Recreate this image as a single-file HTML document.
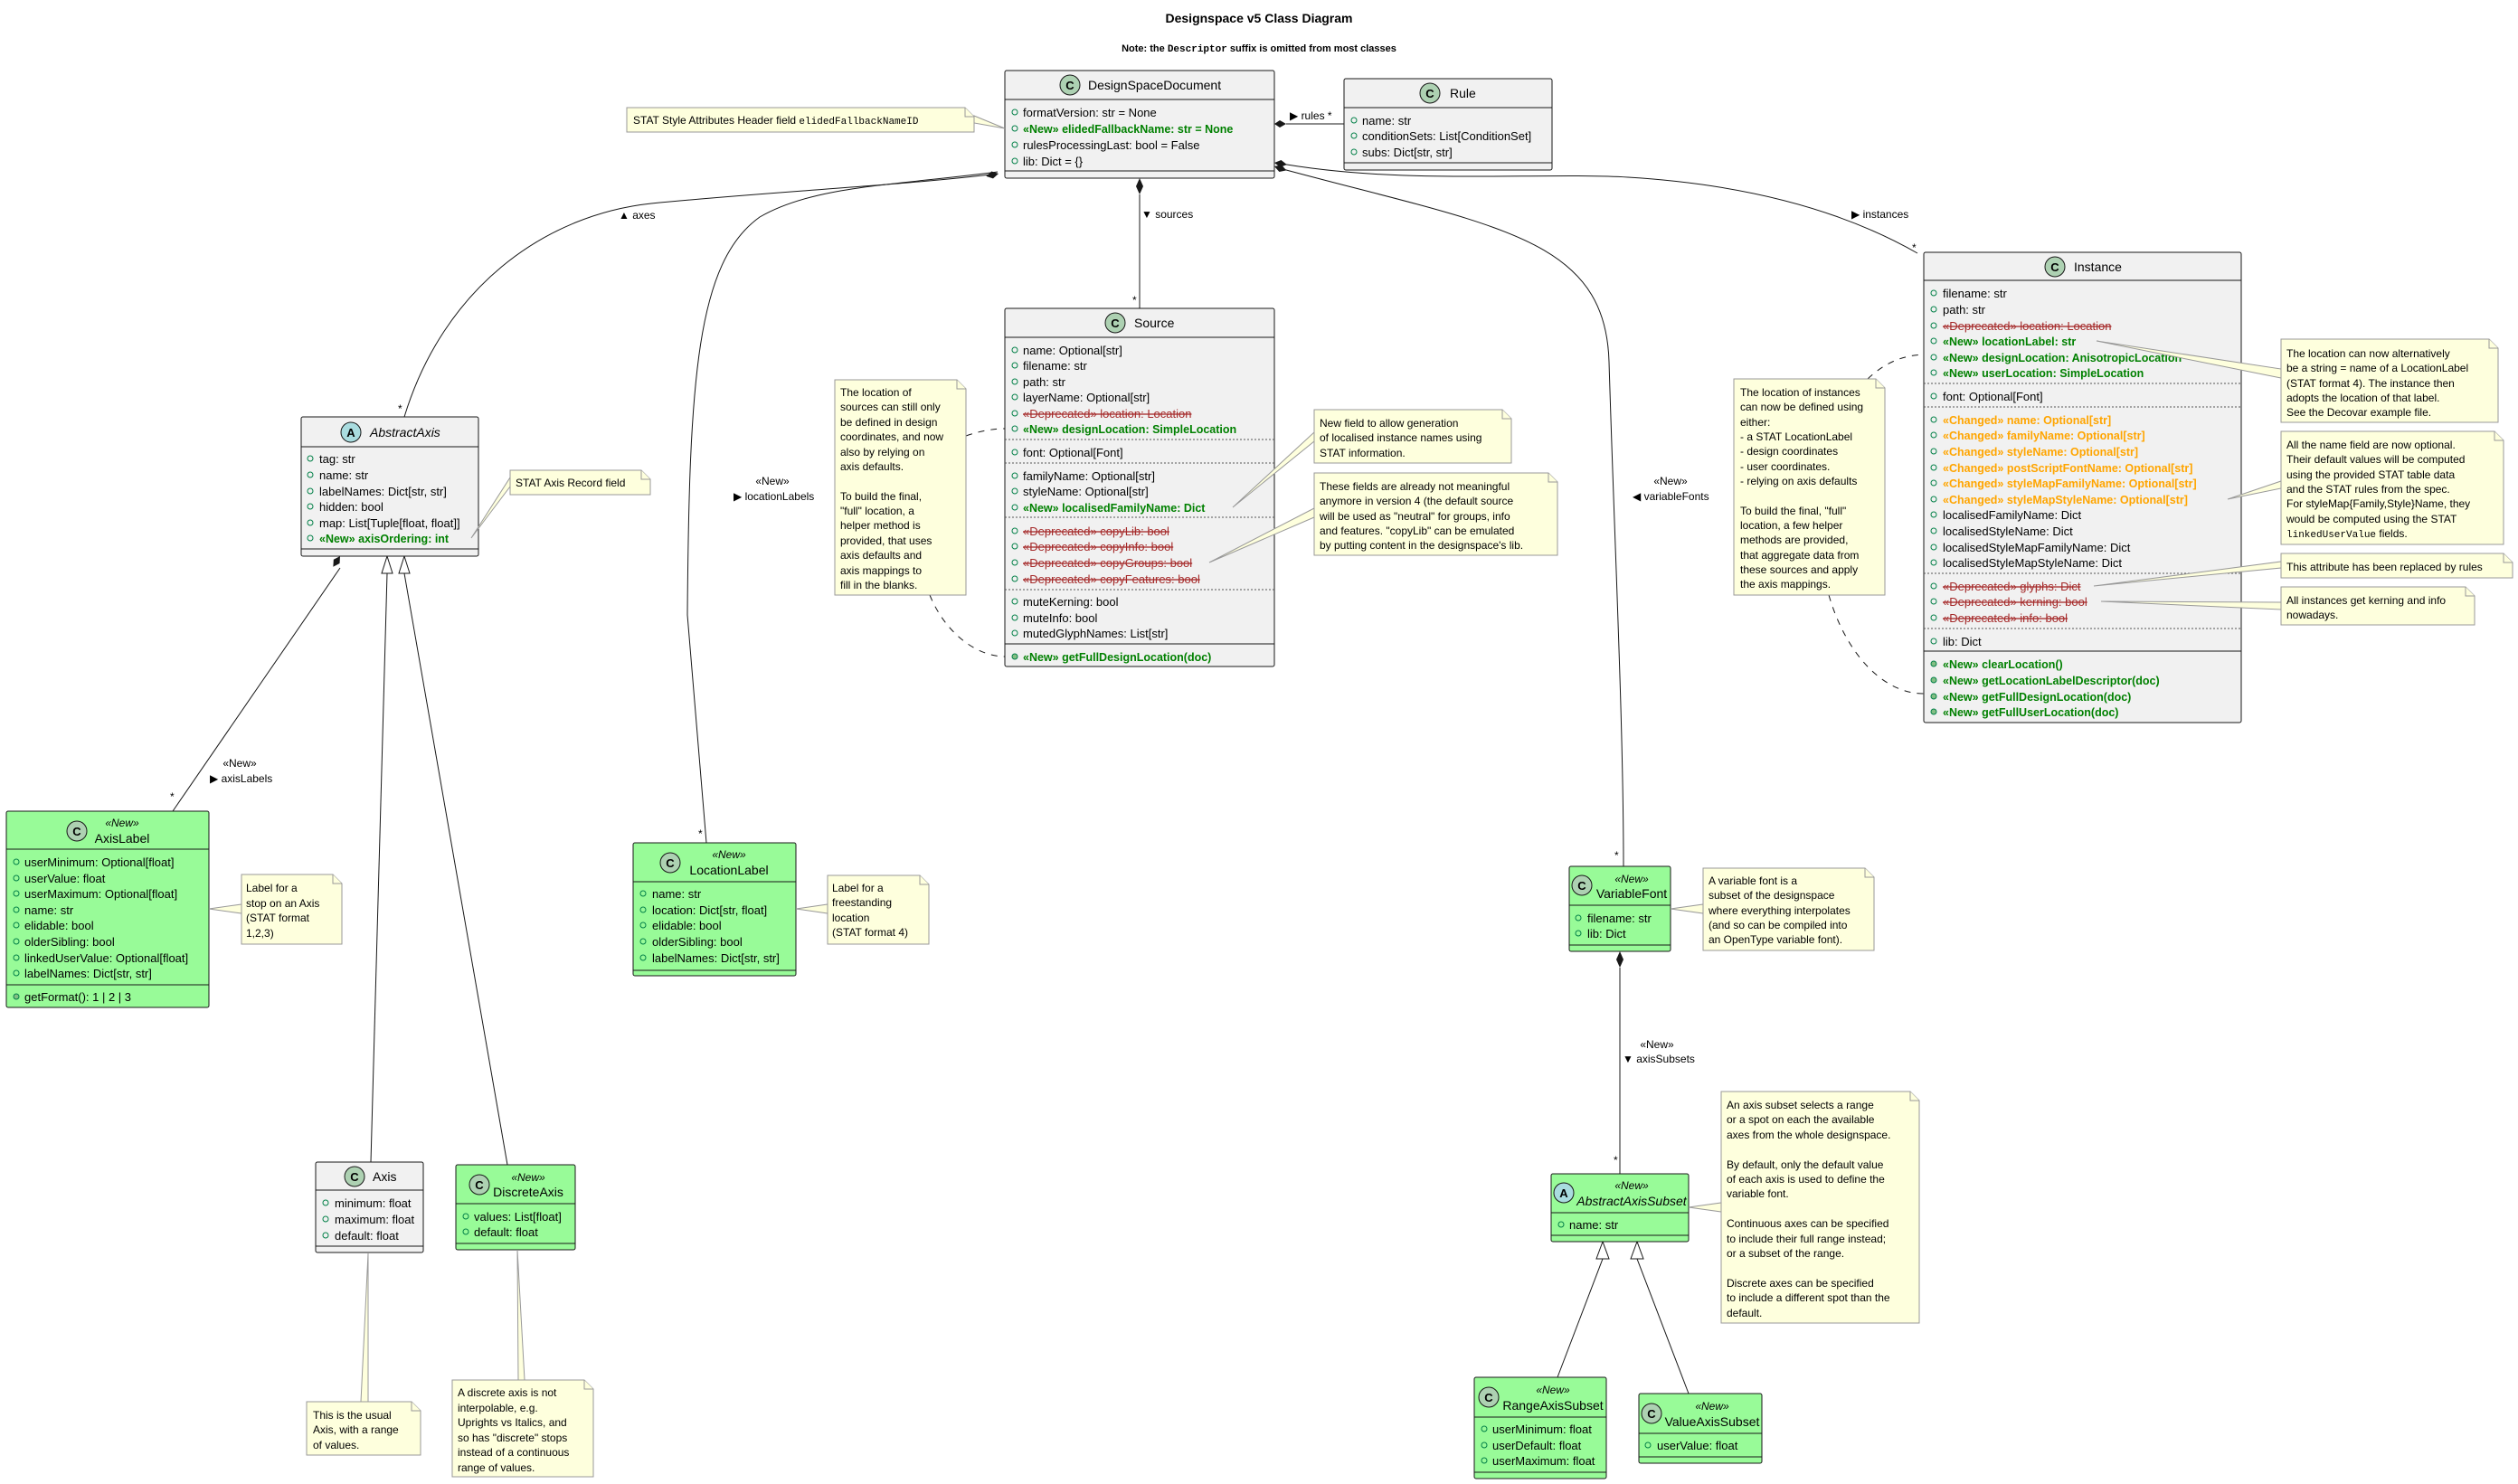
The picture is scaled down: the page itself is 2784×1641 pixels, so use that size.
<!DOCTYPE html>
<html><head><meta charset="utf-8"><style>
html,body{margin:0;padding:0;background:#fff}
svg{display:block}
text{font-family:"Liberation Sans",sans-serif;fill:#000}
.r{font-size:13px}
.g{font-size:12.5px;font-weight:bold;fill:#008000}
.o{font-size:12.5px;font-weight:bold;fill:#FFA500}
.d{font-size:13px;fill:#A52A2A;text-decoration:line-through}
.n{font-size:12px}
.l{font-size:12px}
.h{font-size:14px}
.st{font-size:12px;font-style:italic}
.box{fill:#F1F1F1;stroke:#181818;stroke-width:1}
.gbox{fill:#98FB98;stroke:#181818;stroke-width:1}
.sep{stroke:#555;stroke-width:1;stroke-dasharray:2,2}
.sol{stroke:#181818;stroke-width:1}
.ic{fill:none;stroke:#038048;stroke-width:1}
.im{fill:#84BE84;stroke:#038048;stroke-width:1}
.note{fill:#FEFFDD;stroke:#999;stroke-width:1}
.ln{fill:none;stroke:#181818;stroke-width:1}
.dl{fill:none;stroke:#181818;stroke-width:1;stroke-dasharray:7,7}
.cc{fill:#ADD1B2;stroke:#181818;stroke-width:1}
.ca{fill:#A9DCDF;stroke:#181818;stroke-width:1}
.cl{font-size:13px;font-weight:bold;text-anchor:middle}
</style></head><body>
<svg width="2784" height="1641" viewBox="0 0 2784 1641" xmlns="http://www.w3.org/2000/svg">
<text x="1392" y="25" text-anchor="middle" style="font-size:14px;font-weight:bold">Designspace v5 Class Diagram</text>
<text x="1392" y="57" text-anchor="middle" style="font-size:11px;font-weight:bold">Note: the <tspan style="font-family:'Liberation Mono',monospace">Descriptor</tspan> suffix is omitted from most classes</text>

<path class="ln" d="M1103,192 C1000,205 850,212 720,225 C600,238 490,320 447,461"/>
<path class="ln" d="M1103,190 C990,205 900,205 840,240 C770,290 762,420 760,680 L781,932"/>
<path class="ln" d="M1260,215 L1260,341"/>
<path class="ln" d="M1422,137 L1486,137"/>
<path class="ln" d="M1411,180 C1550,205 1700,190 1800,196 C1950,205 2050,240 2120,280"/>
<path class="ln" d="M1411,185 C1650,250 1775,260 1779,400 C1785,600 1795,800 1795,958"/>
<path class="ln" d="M376,628 L191,897"/>
<path class="ln" d="M410,1285 L428,634"/>
<path class="ln" d="M561,1288 L447,634"/>
<path class="ln" d="M1791,1070 L1791,1298"/>
<path class="ln" d="M1722,1523 L1772,1392"/>
<path class="ln" d="M1867,1541 L1810,1392"/>
<polygon points="0,0 -7,-4 -14,0 -7,4" transform="translate(1104,192) rotate(-12)" fill="#181818"/>
<polygon points="1260,197 1264,206 1260,215 1256,206" fill="#181818"/>
<polygon points="1409,137 1415,133 1422,137 1415,141" fill="#181818"/>
<polygon points="0,0 7,-4 14,0 7,4" transform="translate(1409,180) rotate(8)" fill="#181818"/>
<polygon points="0,0 7,-4 14,0 7,4" transform="translate(1409,184) rotate(18)" fill="#181818"/>
<polygon points="0,0 7,-4 14,0 7,4" transform="translate(376,615) rotate(123)" fill="#181818"/>
<polygon points="1791,1052 1795,1061 1791,1070 1787,1061" fill="#181818"/>
<polygon points="428,615 422,634 434,634" fill="#fff" stroke="#181818"/>
<polygon points="447,615 441,634 453,634" fill="#fff" stroke="#181818"/>
<polygon points="1772,1373 1765,1392 1779,1392" fill="#fff" stroke="#181818"/>
<polygon points="1810,1373 1803,1392 1817,1392" fill="#fff" stroke="#181818"/>

<text class="l" x="684" y="242">▲ axes</text>
<text class="l" x="440" y="456">*</text>
<text class="l" x="1262" y="241">▼ sources</text>
<text class="l" x="1252" y="336">*</text>
<text class="l" x="1426" y="132">▶ rules *</text>
<text class="l" x="854" y="536" text-anchor="middle">«New»</text>
<text class="l" x="811" y="553">▶ locationLabels</text>
<text class="l" x="772" y="926">*</text>
<text class="l" x="2047" y="241">▶ instances</text>
<text class="l" x="2114" y="278">*</text>
<text class="l" x="1847" y="536" text-anchor="middle">«New»</text>
<text class="l" x="1805" y="553">◀ variableFonts</text>
<text class="l" x="1785" y="950">*</text>
<text class="l" x="265" y="848" text-anchor="middle">«New»</text>
<text class="l" x="232" y="865">▶ axisLabels</text>
<text class="l" x="188" y="885">*</text>
<text class="l" x="1832" y="1159" text-anchor="middle">«New»</text>
<text class="l" x="1794" y="1175">▼ axisSubsets</text>
<text class="l" x="1784" y="1287">*</text>

<path class="dl" d="M1068,482 C1085,476 1100,474 1111,474"/>
<path class="dl" d="M1028,658 C1045,700 1080,726 1111,726"/>
<path class="dl" d="M2065,419 C2085,400 2105,393 2127,392"/>
<path class="dl" d="M2022,658 C2040,720 2080,767 2127,767"/>

<rect class="box" x="1111" y="78" width="298" height="119" rx="2"/>
<line class="sol" x1="1111" y1="110" x2="1409" y2="110"/>
<circle class="cc" cx="1183" cy="94" r="11"/><text class="cl" x="1183" y="99">C</text>
<text class="h" x="1203" y="99">DesignSpaceDocument</text>
<circle class="ic" cx="1122" cy="124" r="3"/><text class="r" x="1131" y="129">formatVersion: str = None</text>
<circle class="ic" cx="1122" cy="142" r="3"/><text class="g" x="1131" y="147">«New» elidedFallbackName: str = None</text>
<circle class="ic" cx="1122" cy="160" r="3"/><text class="r" x="1131" y="165">rulesProcessingLast: bool = False</text>
<circle class="ic" cx="1122" cy="178" r="3"/><text class="r" x="1131" y="183">lib: Dict = {}</text>
<line class="sol" x1="1111" y1="189" x2="1409" y2="189"/>

<rect class="box" x="1486" y="87" width="230" height="101" rx="2"/>
<line class="sol" x1="1486" y1="119" x2="1716" y2="119"/>
<circle class="cc" cx="1581" cy="103" r="11"/><text class="cl" x="1581" y="108">C</text>
<text class="h" x="1603" y="108">Rule</text>
<circle class="ic" cx="1497" cy="133" r="3"/><text class="r" x="1506" y="138">name: str</text>
<circle class="ic" cx="1497" cy="150" r="3"/><text class="r" x="1506" y="155">conditionSets: List[ConditionSet]</text>
<circle class="ic" cx="1497" cy="168" r="3"/><text class="r" x="1506" y="173">subs: Dict[str, str]</text>
<line class="sol" x1="1486" y1="180" x2="1716" y2="180"/>

<path class="note" d="M693,119 L1067,119 L1077,129 L1077,146 L693,146 Z"/>
<path class="note" d="M1067,119 L1067,129 L1077,129" fill="none"/>
<polygon class="note" points="1077,128 1111,142 1077,136"/>
<text class="n" x="700" y="137">STAT Style Attributes Header field <tspan style="font-family:'Liberation Mono',monospace;font-size:11px">elidedFallbackNameID</tspan></text>

<rect class="box" x="1111" y="341" width="298" height="396" rx="2"/>
<line class="sol" x1="1111" y1="373" x2="1409" y2="373"/>
<circle class="cc" cx="1233" cy="357" r="11"/><text class="cl" x="1233" y="362">C</text>
<text class="h" x="1254" y="362">Source</text>
<circle class="ic" cx="1122" cy="387" r="3"/><text class="r" x="1131" y="392">name: Optional[str]</text>
<circle class="ic" cx="1122" cy="404" r="3"/><text class="r" x="1131" y="409">filename: str</text>
<circle class="ic" cx="1122" cy="422" r="3"/><text class="r" x="1131" y="427">path: str</text>
<circle class="ic" cx="1122" cy="439" r="3"/><text class="r" x="1131" y="444">layerName: Optional[str]</text>
<circle class="ic" cx="1122" cy="457" r="3"/><text class="d" x="1131" y="462">«Deprecated» location: Location</text>
<circle class="ic" cx="1122" cy="474" r="3"/><text class="g" x="1131" y="479">«New» designLocation: SimpleLocation</text>
<line class="sep" x1="1111" y1="486" x2="1409" y2="486"/>
<circle class="ic" cx="1122" cy="500" r="3"/><text class="r" x="1131" y="505">font: Optional[Font]</text>
<line class="sep" x1="1111" y1="512" x2="1409" y2="512"/>
<circle class="ic" cx="1122" cy="526" r="3"/><text class="r" x="1131" y="531">familyName: Optional[str]</text>
<circle class="ic" cx="1122" cy="543" r="3"/><text class="r" x="1131" y="548">styleName: Optional[str]</text>
<circle class="ic" cx="1122" cy="561" r="3"/><text class="g" x="1131" y="566">«New» localisedFamilyName: Dict</text>
<line class="sep" x1="1111" y1="572" x2="1409" y2="572"/>
<circle class="ic" cx="1122" cy="587" r="3"/><text class="d" x="1131" y="592">«Deprecated» copyLib: bool</text>
<circle class="ic" cx="1122" cy="604" r="3"/><text class="d" x="1131" y="609">«Deprecated» copyInfo: bool</text>
<circle class="ic" cx="1122" cy="622" r="3"/><text class="d" x="1131" y="627">«Deprecated» copyGroups: bool</text>
<circle class="ic" cx="1122" cy="640" r="3"/><text class="d" x="1131" y="645">«Deprecated» copyFeatures: bool</text>
<line class="sep" x1="1111" y1="652" x2="1409" y2="652"/>
<circle class="ic" cx="1122" cy="665" r="3"/><text class="r" x="1131" y="670">muteKerning: bool</text>
<circle class="ic" cx="1122" cy="683" r="3"/><text class="r" x="1131" y="688">muteInfo: bool</text>
<circle class="ic" cx="1122" cy="700" r="3"/><text class="r" x="1131" y="705">mutedGlyphNames: List[str]</text>
<line class="sol" x1="1111" y1="712" x2="1409" y2="712"/>
<circle class="im" cx="1122" cy="726" r="3"/><text class="g" x="1131" y="731">«New» getFullDesignLocation(doc)</text>

<path class="note" d="M923,420 L1058,420 L1068,430 L1068,658 L923,658 Z"/>
<path class="note" d="M1058,420 L1058,430 L1068,430" fill="none"/>
<text class="n" x="929"><tspan x="929" y="438">The location of</tspan><tspan x="929" y="454">sources can still only</tspan><tspan x="929" y="471">be defined in design</tspan><tspan x="929" y="487">coordinates, and now</tspan><tspan x="929" y="504">also by relying on</tspan><tspan x="929" y="520">axis defaults.</tspan><tspan x="929" y="553">To build the final,</tspan><tspan x="929" y="569">"full" location, a</tspan><tspan x="929" y="585">helper method is</tspan><tspan x="929" y="602">provided, that uses</tspan><tspan x="929" y="618">axis defaults and</tspan><tspan x="929" y="635">axis mappings to</tspan><tspan x="929" y="651">fill in the blanks.</tspan></text>

<polygon class="note" points="1363,561 1453,478 1453,488"/>
<path class="note" d="M1453,453 L1661,453 L1671,463 L1671,512 L1453,512 Z"/>
<path class="note" d="M1661,453 L1661,463 L1671,463" fill="none"/>
<text class="n"><tspan x="1459" y="472">New field to allow generation</tspan><tspan x="1459" y="488">of localised instance names using</tspan><tspan x="1459" y="505">STAT information.</tspan></text>

<polygon class="note" points="1337,622 1453,562 1453,572"/>
<path class="note" d="M1453,523 L1712,523 L1722,533 L1722,614 L1453,614 Z"/>
<path class="note" d="M1712,523 L1712,533 L1722,533" fill="none"/>
<text class="n"><tspan x="1459" y="542">These fields are already not meaningful</tspan><tspan x="1459" y="558">anymore in version 4 (the default source</tspan><tspan x="1459" y="575">will be used as "neutral" for groups, info</tspan><tspan x="1459" y="591">and features. "copyLib" can be emulated</tspan><tspan x="1459" y="607">by putting content in the designspace's lib.</tspan></text>

<rect class="box" x="2127" y="279" width="351" height="520" rx="2"/>
<line class="sol" x1="2127" y1="310" x2="2478" y2="310"/>
<circle class="cc" cx="2272" cy="295" r="11"/><text class="cl" x="2272" y="300">C</text>
<text class="h" x="2293" y="300">Instance</text>
<circle class="ic" cx="2138" cy="324" r="3"/><text class="r" x="2148" y="329">filename: str</text>
<circle class="ic" cx="2138" cy="342" r="3"/><text class="r" x="2148" y="347">path: str</text>
<circle class="ic" cx="2138" cy="360" r="3"/><text class="d" x="2148" y="365">«Deprecated» location: Location</text>
<circle class="ic" cx="2138" cy="377" r="3"/><text class="g" x="2148" y="382">«New» locationLabel: str</text>
<circle class="ic" cx="2138" cy="395" r="3"/><text class="g" x="2148" y="400">«New» designLocation: AnisotropicLocation</text>
<circle class="ic" cx="2138" cy="412" r="3"/><text class="g" x="2148" y="417">«New» userLocation: SimpleLocation</text>
<line class="sep" x1="2127" y1="424" x2="2478" y2="424"/>
<circle class="ic" cx="2138" cy="438" r="3"/><text class="r" x="2148" y="443">font: Optional[Font]</text>
<line class="sep" x1="2127" y1="450" x2="2478" y2="450"/>
<circle class="ic" cx="2138" cy="464" r="3"/><text class="o" x="2148" y="469">«Changed» name: Optional[str]</text>
<circle class="ic" cx="2138" cy="481" r="3"/><text class="o" x="2148" y="486">«Changed» familyName: Optional[str]</text>
<circle class="ic" cx="2138" cy="499" r="3"/><text class="o" x="2148" y="504">«Changed» styleName: Optional[str]</text>
<circle class="ic" cx="2138" cy="517" r="3"/><text class="o" x="2148" y="522">«Changed» postScriptFontName: Optional[str]</text>
<circle class="ic" cx="2138" cy="534" r="3"/><text class="o" x="2148" y="539">«Changed» styleMapFamilyName: Optional[str]</text>
<circle class="ic" cx="2138" cy="552" r="3"/><text class="o" x="2148" y="557">«Changed» styleMapStyleName: Optional[str]</text>
<circle class="ic" cx="2138" cy="569" r="3"/><text class="r" x="2148" y="574">localisedFamilyName: Dict</text>
<circle class="ic" cx="2138" cy="587" r="3"/><text class="r" x="2148" y="592">localisedStyleName: Dict</text>
<circle class="ic" cx="2138" cy="605" r="3"/><text class="r" x="2148" y="610">localisedStyleMapFamilyName: Dict</text>
<circle class="ic" cx="2138" cy="622" r="3"/><text class="r" x="2148" y="627">localisedStyleMapStyleName: Dict</text>
<line class="sep" x1="2127" y1="634" x2="2478" y2="634"/>
<circle class="ic" cx="2138" cy="648" r="3"/><text class="d" x="2148" y="653">«Deprecated» glyphs: Dict</text>
<circle class="ic" cx="2138" cy="665" r="3"/><text class="d" x="2148" y="670">«Deprecated» kerning: bool</text>
<circle class="ic" cx="2138" cy="683" r="3"/><text class="d" x="2148" y="688">«Deprecated» info: bool</text>
<line class="sep" x1="2127" y1="695" x2="2478" y2="695"/>
<circle class="ic" cx="2138" cy="709" r="3"/><text class="r" x="2148" y="714">lib: Dict</text>
<line class="sol" x1="2127" y1="720" x2="2478" y2="720"/>
<circle class="im" cx="2138" cy="734" r="3"/><text class="g" x="2148" y="739">«New» clearLocation()</text>
<circle class="im" cx="2138" cy="752" r="3"/><text class="g" x="2148" y="757">«New» getLocationLabelDescriptor(doc)</text>
<circle class="im" cx="2138" cy="770" r="3"/><text class="g" x="2148" y="775">«New» getFullDesignLocation(doc)</text>
<circle class="im" cx="2138" cy="787" r="3"/><text class="g" x="2148" y="792">«New» getFullUserLocation(doc)</text>

<path class="note" d="M1917,419 L2074,419 L2084,429 L2084,658 L1917,658 Z"/>
<path class="note" d="M2074,419 L2074,429 L2084,429" fill="none"/>
<text class="n"><tspan x="1924" y="438">The location of instances</tspan><tspan x="1924" y="454">can now be defined using</tspan><tspan x="1924" y="471">either:</tspan><tspan x="1924" y="487">- a STAT LocationLabel</tspan><tspan x="1924" y="503">- design coordinates</tspan><tspan x="1924" y="520">- user coordinates.</tspan><tspan x="1924" y="536">- relying on axis defaults</tspan><tspan x="1924" y="569">To build the final, "full"</tspan><tspan x="1924" y="585">location, a few helper</tspan><tspan x="1924" y="601">methods are provided,</tspan><tspan x="1924" y="618">that aggregate data from</tspan><tspan x="1924" y="634">these sources and apply</tspan><tspan x="1924" y="650">the axis mappings.</tspan></text>

<polygon class="note" points="2318,377 2522,408 2522,418"/>
<path class="note" d="M2522,375 L2752,375 L2762,385 L2762,467 L2522,467 Z"/>
<path class="note" d="M2752,375 L2752,385 L2762,385" fill="none"/>
<text class="n"><tspan x="2528" y="395">The location can now alternatively</tspan><tspan x="2528" y="411">be a string = name of a LocationLabel</tspan><tspan x="2528" y="428">(STAT format 4). The instance then</tspan><tspan x="2528" y="444">adopts the location of that label.</tspan><tspan x="2528" y="460">See the Decovar example file.</tspan></text>

<polygon class="note" points="2463,552 2522,532 2522,540"/>
<path class="note" d="M2522,477 L2758,477 L2768,487 L2768,602 L2522,602 Z"/>
<path class="note" d="M2758,477 L2758,487 L2768,487" fill="none"/>
<text class="n"><tspan x="2528" y="496">All the name field are now optional.</tspan><tspan x="2528" y="512">Their default values will be computed</tspan><tspan x="2528" y="529">using the provided STAT table data</tspan><tspan x="2528" y="545">and the STAT rules from the spec.</tspan><tspan x="2528" y="561">For styleMap{Family,Style}Name, they</tspan><tspan x="2528" y="578">would be computed using the STAT</tspan><tspan x="2528" y="594"><tspan style="font-family:'Liberation Mono',monospace;font-size:11px">linkedUserValue</tspan> fields.</tspan></text>

<polygon class="note" points="2315,648 2522,621 2522,628"/>
<path class="note" d="M2522,612 L2768,612 L2778,622 L2778,639 L2522,639 Z"/>
<path class="note" d="M2768,612 L2768,622 L2778,622" fill="none"/>
<text class="n" x="2528" y="631">This attribute has been replaced by rules</text>

<polygon class="note" points="2323,665 2522,666 2522,674"/>
<path class="note" d="M2522,649 L2726,649 L2736,659 L2736,691 L2522,691 Z"/>
<path class="note" d="M2726,649 L2726,659 L2736,659" fill="none"/>
<text class="n"><tspan x="2528" y="668">All instances get kerning and info</tspan><tspan x="2528" y="684">nowadays.</tspan></text>

<rect class="box" x="333" y="461" width="196" height="154" rx="2"/>
<line class="sol" x1="333" y1="494" x2="529" y2="494"/>
<circle class="ca" cx="388" cy="478" r="11"/><text class="cl" x="388" y="483">A</text>
<text class="h" x="409" y="483" style="font-style:italic">AbstractAxis</text>
<circle class="ic" cx="343" cy="507" r="3"/><text class="r" x="353" y="512">tag: str</text>
<circle class="ic" cx="343" cy="525" r="3"/><text class="r" x="353" y="530">name: str</text>
<circle class="ic" cx="343" cy="543" r="3"/><text class="r" x="353" y="548">labelNames: Dict[str, str]</text>
<circle class="ic" cx="343" cy="560" r="3"/><text class="r" x="353" y="565">hidden: bool</text>
<circle class="ic" cx="343" cy="578" r="3"/><text class="r" x="353" y="583">map: List[Tuple[float, float]]</text>
<circle class="ic" cx="343" cy="595" r="3"/><text class="g" x="353" y="600">«New» axisOrdering: int</text>
<line class="sol" x1="333" y1="607" x2="529" y2="607"/>

<polygon class="note" points="521,595 564,528 564,538"/>
<path class="note" d="M564,520 L709,520 L719,530 L719,547 L564,547 Z"/>
<path class="note" d="M709,520 L709,530 L719,530" fill="none"/>
<text class="n" x="570" y="538">STAT Axis Record field</text>

<rect class="gbox" x="7" y="897" width="224" height="217" rx="2"/>
<line class="sol" x1="7" y1="939" x2="231" y2="939"/>
<circle class="cc" cx="85" cy="919" r="11"/><text class="cl" x="85" y="924">C</text>
<text class="st" x="135" y="914" text-anchor="middle">«New»</text>
<text class="h" x="135" y="932" text-anchor="middle">AxisLabel</text>
<circle class="ic" cx="18" cy="953" r="3"/><text class="r" x="27" y="958">userMinimum: Optional[float]</text>
<circle class="ic" cx="18" cy="971" r="3"/><text class="r" x="27" y="976">userValue: float</text>
<circle class="ic" cx="18" cy="988" r="3"/><text class="r" x="27" y="993">userMaximum: Optional[float]</text>
<circle class="ic" cx="18" cy="1006" r="3"/><text class="r" x="27" y="1011">name: str</text>
<circle class="ic" cx="18" cy="1023" r="3"/><text class="r" x="27" y="1028">elidable: bool</text>
<circle class="ic" cx="18" cy="1041" r="3"/><text class="r" x="27" y="1046">olderSibling: bool</text>
<circle class="ic" cx="18" cy="1059" r="3"/><text class="r" x="27" y="1064">linkedUserValue: Optional[float]</text>
<circle class="ic" cx="18" cy="1076" r="3"/><text class="r" x="27" y="1081">labelNames: Dict[str, str]</text>
<line class="sol" x1="7" y1="1089" x2="231" y2="1089"/>
<circle class="im" cx="18" cy="1102" r="3"/><text class="r" x="27" y="1107">getFormat(): 1 | 2 | 3</text>

<polygon class="note" points="231,1005 267,1000 267,1010"/>
<path class="note" d="M267,967 L368,967 L378,977 L378,1044 L267,1044 Z"/>
<path class="note" d="M368,967 L368,977 L378,977" fill="none"/>
<text class="n"><tspan x="272" y="986">Label for a</tspan><tspan x="272" y="1003">stop on an Axis</tspan><tspan x="272" y="1019">(STAT format</tspan><tspan x="272" y="1036">1,2,3)</tspan></text>

<rect class="gbox" x="700" y="932" width="180" height="147" rx="2"/>
<line class="sol" x1="700" y1="975" x2="880" y2="975"/>
<circle class="cc" cx="741" cy="954" r="11"/><text class="cl" x="741" y="959">C</text>
<text class="st" x="806" y="949" text-anchor="middle">«New»</text>
<text class="h" x="806" y="967" text-anchor="middle">LocationLabel</text>
<circle class="ic" cx="711" cy="988" r="3"/><text class="r" x="721" y="993">name: str</text>
<circle class="ic" cx="711" cy="1006" r="3"/><text class="r" x="721" y="1011">location: Dict[str, float]</text>
<circle class="ic" cx="711" cy="1023" r="3"/><text class="r" x="721" y="1028">elidable: bool</text>
<circle class="ic" cx="711" cy="1041" r="3"/><text class="r" x="721" y="1046">olderSibling: bool</text>
<circle class="ic" cx="711" cy="1059" r="3"/><text class="r" x="721" y="1064">labelNames: Dict[str, str]</text>
<line class="sol" x1="700" y1="1073" x2="880" y2="1073"/>

<polygon class="note" points="880,1005 915,1000 915,1010"/>
<path class="note" d="M915,968 L1017,968 L1027,978 L1027,1044 L915,1044 Z"/>
<path class="note" d="M1017,968 L1017,978 L1027,978" fill="none"/>
<text class="n"><tspan x="920" y="986">Label for a</tspan><tspan x="920" y="1002">freestanding</tspan><tspan x="920" y="1019">location</tspan><tspan x="920" y="1035">(STAT format 4)</tspan></text>

<rect class="box" x="349" y="1285" width="119" height="100" rx="2"/>
<line class="sol" x1="349" y1="1316" x2="468" y2="1316"/>
<circle class="cc" cx="392" cy="1301" r="11"/><text class="cl" x="392" y="1306">C</text>
<text class="h" x="412" y="1306">Axis</text>
<circle class="ic" cx="360" cy="1330" r="3"/><text class="r" x="370" y="1335">minimum: float</text>
<circle class="ic" cx="360" cy="1348" r="3"/><text class="r" x="370" y="1353">maximum: float</text>
<circle class="ic" cx="360" cy="1366" r="3"/><text class="r" x="370" y="1371">default: float</text>
<line class="sol" x1="349" y1="1378" x2="468" y2="1378"/>

<polygon class="note" points="407,1386 399,1550 407,1550"/>
<path class="note" d="M339,1550 L455,1550 L465,1560 L465,1609 L339,1609 Z"/>
<path class="note" d="M455,1550 L455,1560 L465,1560" fill="none"/>
<text class="n"><tspan x="346" y="1569">This is the usual</tspan><tspan x="346" y="1585">Axis, with a range</tspan><tspan x="346" y="1602">of values.</tspan></text>

<rect class="gbox" x="504" y="1288" width="132" height="94" rx="2"/>
<line class="sol" x1="504" y1="1331" x2="636" y2="1331"/>
<circle class="cc" cx="530" cy="1310" r="11"/><text class="cl" x="530" y="1315">C</text>
<text class="st" x="584" y="1306" text-anchor="middle">«New»</text>
<text class="h" x="584" y="1323" text-anchor="middle">DiscreteAxis</text>
<circle class="ic" cx="515" cy="1345" r="3"/><text class="r" x="524" y="1350">values: List[float]</text>
<circle class="ic" cx="515" cy="1362" r="3"/><text class="r" x="524" y="1367">default: float</text>
<line class="sol" x1="504" y1="1375" x2="636" y2="1375"/>

<polygon class="note" points="572,1382 573,1526 580,1526"/>
<path class="note" d="M500,1526 L646,1526 L656,1536 L656,1633 L500,1633 Z"/>
<path class="note" d="M646,1526 L646,1536 L656,1536" fill="none"/>
<text class="n"><tspan x="506" y="1544">A discrete axis is not</tspan><tspan x="506" y="1561">interpolable, e.g.</tspan><tspan x="506" y="1577">Uprights vs Italics, and</tspan><tspan x="506" y="1594">so has "discrete" stops</tspan><tspan x="506" y="1610">instead of a continuous</tspan><tspan x="506" y="1627">range of values.</tspan></text>

<rect class="gbox" x="1735" y="958" width="112" height="94" rx="2"/>
<line class="sol" x1="1735" y1="1001" x2="1847" y2="1001"/>
<circle class="cc" cx="1749" cy="979" r="11"/><text class="cl" x="1749" y="984">C</text>
<text class="st" x="1804" y="976" text-anchor="middle">«New»</text>
<text class="h" x="1804" y="993" text-anchor="middle">VariableFont</text>
<circle class="ic" cx="1745" cy="1015" r="3"/><text class="r" x="1755" y="1020">filename: str</text>
<circle class="ic" cx="1745" cy="1032" r="3"/><text class="r" x="1755" y="1037">lib: Dict</text>
<line class="sol" x1="1735" y1="1045" x2="1847" y2="1045"/>

<polygon class="note" points="1847,1005 1883,1000 1883,1010"/>
<path class="note" d="M1883,960 L2062,960 L2072,970 L2072,1051 L1883,1051 Z"/>
<path class="note" d="M2062,960 L2062,970 L2072,970" fill="none"/>
<text class="n"><tspan x="1889" y="978">A variable font is a</tspan><tspan x="1889" y="994">subset of the designspace</tspan><tspan x="1889" y="1011">where everything interpolates</tspan><tspan x="1889" y="1027">(and so can be compiled into</tspan><tspan x="1889" y="1043">an OpenType variable font).</tspan></text>

<rect class="gbox" x="1715" y="1298" width="152" height="75" rx="2"/>
<line class="sol" x1="1715" y1="1341" x2="1867" y2="1341"/>
<circle class="ca" cx="1729" cy="1319" r="11"/><text class="cl" x="1729" y="1324">A</text>
<text class="st" x="1804" y="1315" text-anchor="middle">«New»</text>
<text class="h" x="1804" y="1333" text-anchor="middle" style="font-style:italic">AbstractAxisSubset</text>
<circle class="ic" cx="1726" cy="1354" r="3"/><text class="r" x="1735" y="1359">name: str</text>
<line class="sol" x1="1715" y1="1366" x2="1867" y2="1366"/>

<polygon class="note" points="1867,1335 1903,1330 1903,1340"/>
<path class="note" d="M1903,1207 L2112,1207 L2122,1217 L2122,1463 L1903,1463 Z"/>
<path class="note" d="M2112,1207 L2112,1217 L2122,1217" fill="none"/>
<text class="n"><tspan x="1909" y="1226">An axis subset selects a range</tspan><tspan x="1909" y="1242">or a spot on each the available</tspan><tspan x="1909" y="1259">axes from the whole designspace.</tspan><tspan x="1909" y="1292">By default, only the default value</tspan><tspan x="1909" y="1308">of each axis is used to define the</tspan><tspan x="1909" y="1324">variable font.</tspan><tspan x="1909" y="1357">Continuous axes can be specified</tspan><tspan x="1909" y="1374">to include their full range instead;</tspan><tspan x="1909" y="1390">or a subset of the range.</tspan><tspan x="1909" y="1423">Discrete axes can be specified</tspan><tspan x="1909" y="1439">to include a different spot than the</tspan><tspan x="1909" y="1456">default.</tspan></text>

<rect class="gbox" x="1630" y="1523" width="146" height="112" rx="2"/>
<line class="sol" x1="1630" y1="1567" x2="1776" y2="1567"/>
<circle class="cc" cx="1646" cy="1545" r="11"/><text class="cl" x="1646" y="1550">C</text>
<text class="st" x="1717" y="1541" text-anchor="middle">«New»</text>
<text class="h" x="1717" y="1559" text-anchor="middle">RangeAxisSubset</text>
<circle class="ic" cx="1641" cy="1580" r="3"/><text class="r" x="1650" y="1585">userMinimum: float</text>
<circle class="ic" cx="1641" cy="1598" r="3"/><text class="r" x="1650" y="1603">userDefault: float</text>
<circle class="ic" cx="1641" cy="1615" r="3"/><text class="r" x="1650" y="1620">userMaximum: float</text>
<line class="sol" x1="1630" y1="1628" x2="1776" y2="1628"/>

<rect class="gbox" x="1812" y="1541" width="136" height="77" rx="2"/>
<line class="sol" x1="1812" y1="1585" x2="1948" y2="1585"/>
<circle class="cc" cx="1826" cy="1563" r="11"/><text class="cl" x="1826" y="1568">C</text>
<text class="st" x="1893" y="1559" text-anchor="middle">«New»</text>
<text class="h" x="1893" y="1577" text-anchor="middle">ValueAxisSubset</text>
<circle class="ic" cx="1822" cy="1598" r="3"/><text class="r" x="1832" y="1603">userValue: float</text>
<line class="sol" x1="1812" y1="1611" x2="1948" y2="1611"/>
</svg>
</body></html>
